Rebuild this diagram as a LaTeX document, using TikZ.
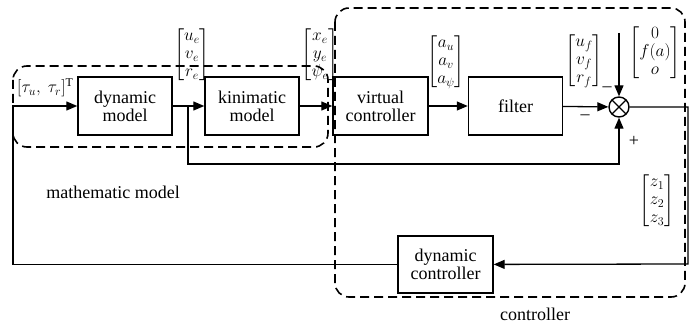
\documentclass[tikz,border=0pt]{standalone}
\usepackage{amsmath}
\usepackage{fontspec}
\setmainfont{Liberation Serif}
\usetikzlibrary{arrows.meta}

\begin{document}
\begin{tikzpicture}[x=1pt,y=-1pt,font=\fontsize{18}{18}\selectfont]
\useasboundingbox (0,0) rectangle (695,326);
\tikzstyle{block} = [draw, line width=1.4pt, minimum width=94pt, minimum height=58pt, align=center, inner sep=2pt]
\tikzstyle{sumpoint} = [draw, circle, line width=1.4pt, minimum size=20pt, inner sep=0pt,
  path picture={\draw[line width=1.2pt] (path picture bounding box.north west) -- (path picture bounding box.south east)
                (path picture bounding box.north east) -- (path picture bounding box.south west);}]
\tikzstyle{vec} = [inner sep=0pt, font=\fontsize{17}{18}\selectfont]
\tikzstyle{signal} = [line width=1.3pt, -{Triangle[length=11pt,width=9pt]}]
\tikzstyle{group} = [line width=1.6pt, dash pattern=on 9pt off 5pt, rounded corners=14pt]

% blocks
\node [block] (dyn) at (125,106) {dynamic\\model};
\node [block] (kin) at (252,106) {kinimatic\\model};
\node [block, minimum width=95pt] (vc) at (380.5,106) {virtual\\controller};
\node [block] (filt) at (515.5,106) {filter};
\node [sumpoint] (sum) at (619,107) {};
\node [block, minimum width=95pt, minimum height=57pt] (dc) at (445.5,264.5) {dynamic\\controller};

% signal vectors
\node [vec, anchor=west] (tau) at (17,88) {$[\tau_u,\ \tau_r]^{\mathrm{T}}$};
\node [vec] (ve) at (192,55) {$\begin{bmatrix} u_e\\ v_e\\ r_e \end{bmatrix}$};
\node [vec] (pe) at (320,55) {$\begin{bmatrix} x_e\\ y_e\\ \psi_e \end{bmatrix}$};
\node [vec] (av) at (446,62) {$\begin{bmatrix} a_u\\ a_v\\ a_\psi \end{bmatrix}$};
\node [vec] (uf) at (584,61) {$\begin{bmatrix} u_f\\ v_f\\ r_f \end{bmatrix}$};
\node [vec] (fa) at (655,53) {$\begin{bmatrix}\ 0\ \\ f(a)\\ o \end{bmatrix}$};
\node [vec] (z) at (657,201) {$\begin{bmatrix} z_1\\ z_2\\ z_3 \end{bmatrix}$};

% signs at the summing point
\node (m1) at (585,117) {–};
\node (m2) at (607,89) {–};
\node (p1) at (634,141) {+};

% group labels
\node (mm) at (113,192) {mathematic model};
\node (ctl) at (535,314) {controller};

% corner points of the loops
\coordinate (in) at (13,106);
\coordinate (br) at (188,106);
\coordinate (fb) at (619,164);
\coordinate (top) at (619,33);
\coordinate (out) at (688,264);

\draw [signal] (dc.west) -| (in) -- (dyn);
\draw [signal] (dyn) -- (kin);
\draw [signal] (kin) -- (vc);
\draw [signal] (vc) -- (filt);
\draw [signal] (filt) -- (sum);
\draw [signal] (top) -- (sum);
\draw [signal] (br) |- (fb) -- (sum);
\draw [signal] (sum) -| (out) -- (dc);

% dashed groups
\draw [group] (13,66) rectangle (328,147);
\draw [group] (335,8) rectangle (685,297);
\end{tikzpicture}
\end{document}
